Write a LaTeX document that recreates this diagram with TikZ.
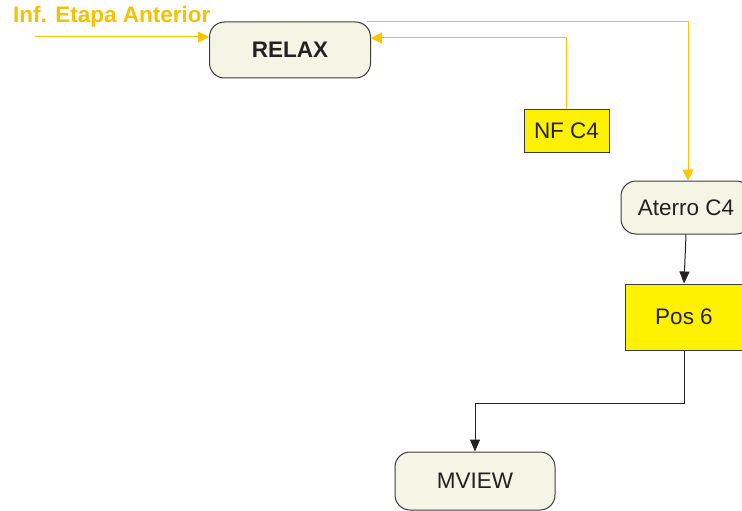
\documentclass[tikz,border=0pt]{standalone}
\usepackage{fontspec}
\setmainfont{Liberation Sans}
\usetikzlibrary{arrows.meta}
\definecolor{lineor}{RGB}{255,196,0}
\definecolor{textor}{RGB}{247,192,0}
\definecolor{beige}{RGB}{245,245,230}
\definecolor{bord}{RGB}{60,60,60}
\definecolor{ink}{RGB}{34,34,34}
\tikzset{
  roundbox/.style={draw=bord, line width=1pt, fill=beige, rounded corners=15pt, inner sep=0pt, text=ink, font=\fontsize{22.5}{26}\selectfont},
  yelbox/.style={draw=bord, line width=1pt, fill=yellow, inner sep=0pt, text=ink, font=\fontsize{22.5}{26}\selectfont},
  orarrow/.style={draw=lineor, line width=1pt, -{Triangle[length=11pt,width=11pt]}},
  blkarrow/.style={draw=ink, line width=1pt, -{Triangle[length=12pt,width=10pt]}}
}
\begin{document}
\begin{tikzpicture}[x=1pt,y=-1pt]
\useasboundingbox (0,0) rectangle (742,511);
\node[anchor=west, inner sep=0pt, text=textor, font=\bfseries\fontsize{22.5}{26}\selectfont] (lbl) at (13,17) {Inf. Etapa Anterior};
\node[roundbox, minimum width=161pt, minimum height=56pt, font=\bfseries\fontsize{22.5}{26}\selectfont] (relax) at (290,50) {RELAX};
\node[yelbox, minimum width=85pt, minimum height=43pt] (nf) at (566.5,130.5) {NF C4};
\node[roundbox, minimum width=130pt, minimum height=53pt] (aterro) at (686,207.5) {Aterro C4};
\node[yelbox, minimum width=118pt, minimum height=66pt] (pos) at (684,317) {Pos 6};
\node[roundbox, minimum width=160pt, minimum height=58pt] (mview) at (475,481) {MVIEW};
\coordinate (in) at (35,37);
\draw[orarrow] (in) -- (in -| relax.west);
\draw[orarrow] ([xshift=-4pt]relax.north east) -- ([xshift=2pt]aterro.north |- relax.north) -- ([xshift=2pt]aterro.north);
\draw[orarrow] (nf.north) |- ([yshift=12pt]relax.east);
\draw[blkarrow] (aterro.south) -- (pos.north);
\draw[blkarrow] (pos.south) -- ++(0,53) -| (mview.north);
\end{tikzpicture}
\end{document}
